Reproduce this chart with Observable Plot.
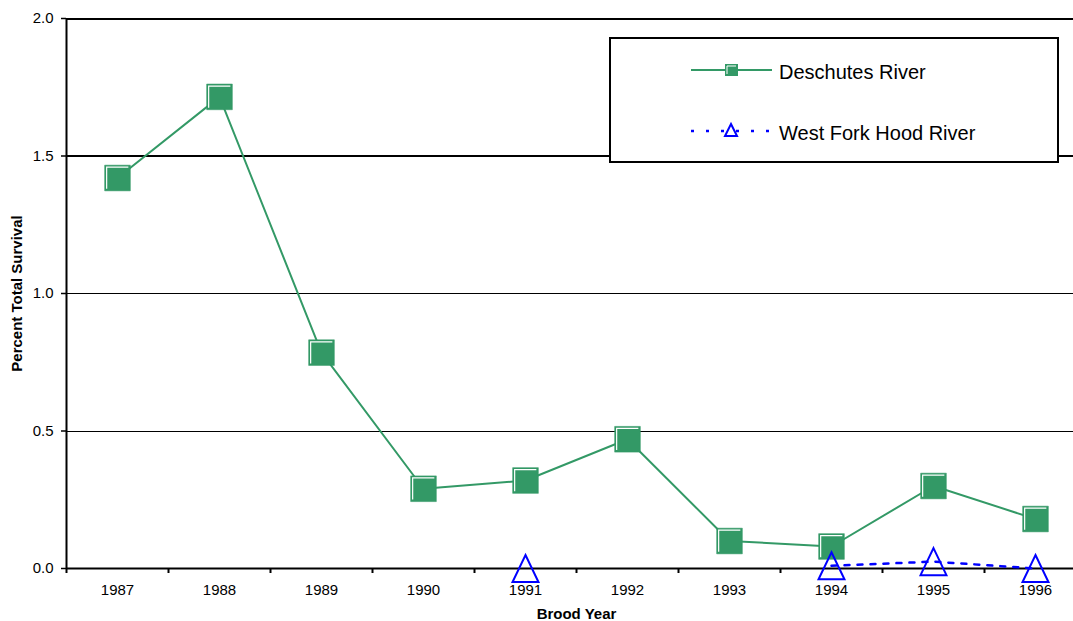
<!DOCTYPE html>
<html>
<head>
<meta charset="utf-8">
<script src="https://cdn.jsdelivr.net/npm/d3@7"></script>
<script src="https://cdn.jsdelivr.net/npm/@observablehq/plot@0.6"></script>
<style>
  html, body { margin: 0; padding: 0; background: #fff; overflow: hidden; }
  #wrap { position: relative; width: 1073px; height: 621px; overflow: hidden; }
  #wrap > svg { max-width: none !important; }
  svg { font-family: "Liberation Sans", Arial, sans-serif; }
</style>
</head>
<body>
<div id="wrap"></div>
<script>
const years = [1987, 1988, 1989, 1990, 1991, 1992, 1993, 1994, 1995, 1996];
const deschutes = [1.42, 1.715, 0.785, 0.29, 0.32, 0.47, 0.10, 0.08, 0.30, 0.18];
const westFork = [null, null, null, null, 0.0, null, null, 0.01, 0.025, 0.0];
const yTicks = [0, 0.5, 1.0, 1.5, 2.0];
const gridValues = [0.5, 1.0, 1.5, 2.0];
const seriesNames = ["Deschutes River", "West Fork Hood River"];

const green = "#339966";
const blue = "#0000FF";

const dataD = years.map((y, i) => ({year: y, v: deschutes[i]}));
const dataW = years.map((y, i) => ({year: y, v: westFork[i]}));
const bandEdges = d3.range(years[0] - 0.5, years[years.length - 1] + 1, 1);

// custom marker shapes
const highlightL = {
  draw(ctx, size) {
    const s = Math.sqrt(size) / 2;
    ctx.moveTo(-s + 2, s - 2);
    ctx.lineTo(-s + 2, -s + 2);
    ctx.lineTo(s - 2, -s + 2);
  }
};
const tallTriangle = {
  draw(ctx, size) {
    const r = Math.sqrt(size / Math.PI);
    ctx.moveTo(0, -r);
    ctx.lineTo(r * 0.96, r);
    ctx.lineTo(-r * 0.96, r);
    ctx.closePath();
  }
};

const chart = Plot.plot({
  width: 1100,
  height: 621,
  marginLeft: 66,
  marginRight: 14,
  marginTop: 18,
  marginBottom: 53,
  style: {fontFamily: "Liberation Sans, Arial, sans-serif", fontSize: "15px", color: "#000", background: "#fff", maxWidth: "none"},
  x: {type: "linear", domain: [years[0] - 0.5, years[years.length - 1] + 0.5]},
  y: {domain: [0, 2]},
  marks: [
    Plot.ruleY(gridValues, {stroke: "#000", strokeOpacity: 1, strokeWidth: d => (d >= 1.5 ? 2 : 1), shapeRendering: "crispEdges"}),
    Plot.axisY({ticks: yTicks, tickFormat: d3.format(".1f"), tickSize: 5, tickPadding: 8, label: null, fontSize: 15, strokeWidth: 1.5}),
    Plot.axisY({ticks: [], label: "Percent Total Survival", labelAnchor: "center", labelArrow: "none", labelOffset: 55, fontWeight: "bold", fontSize: 15}),
    Plot.axisX({ticks: years, tickFormat: d => String(d), tickSize: 0, tickPadding: 16, label: null, fontSize: 15}),
    Plot.axisX({ticks: bandEdges, tickFormat: () => "", tickSize: 5, strokeWidth: 2, label: null}),
    Plot.axisX({ticks: [], label: "Brood Year", labelAnchor: "center", labelArrow: "none", labelOffset: 50, fontWeight: "bold", fontSize: 15}),
    Plot.ruleX([years[0] - 0.5], {stroke: "#000", strokeWidth: 2}),
    Plot.ruleY([0], {stroke: "#000", strokeWidth: 2}),
    Plot.line(dataD, {x: "year", y: "v", stroke: green, strokeWidth: 2}),
    Plot.dot(dataD, {x: "year", y: "v", symbol: "square", r: 14.5, fill: green, stroke: green, strokeWidth: 0.5}),
    Plot.dot(dataD, {x: "year", y: "v", symbol: highlightL, r: 14.5, fill: "none", stroke: "#fff", strokeWidth: 1.2}),
    Plot.line(dataW, {x: "year", y: "v", stroke: blue, strokeWidth: 2.5, strokeDasharray: "5,8"}),
    Plot.dot(dataW.filter(d => d.v != null), {x: "year", y: "v", symbol: tallTriangle, r: 13.5, fill: "none", stroke: blue, strokeWidth: 2})
  ]
});

const wrap = document.getElementById("wrap");
wrap.appendChild(chart);

// Legend box
const leg = d3.select(wrap).append("svg")
  .attr("id", "legend")
  .attr("width", 1073).attr("height", 200)
  .style("position", "absolute").style("left", "0px").style("top", "0px")
  .style("font-family", "Liberation Sans, Arial, sans-serif");
leg.append("rect").attr("x", 610).attr("y", 38).attr("width", 448).attr("height", 124)
  .attr("fill", "#fff").attr("stroke", "#000").attr("stroke-width", 2);

// entry 1
const e1 = leg.append("g").attr("transform", "translate(0,70)");
e1.append("line").attr("x1", 691).attr("x2", 772).attr("y1", 0).attr("y2", 0).attr("stroke", green).attr("stroke-width", 2);
e1.append("rect").attr("x", 725).attr("y", -6).attr("width", 13).attr("height", 12).attr("fill", green);
e1.append("path").attr("d", "M727,4V-4H736").attr("fill", "none").attr("stroke", "#fff").attr("stroke-width", 1);
e1.append("text").attr("x", 779).attr("y", 2).attr("dy", "0.36em").attr("font-size", 20).text(seriesNames[0]);

// entry 2
const e2 = leg.append("g").attr("transform", "translate(0,131)");
e2.append("line").attr("x1", 691).attr("x2", 772).attr("y1", 0).attr("y2", 0).attr("stroke", blue).attr("stroke-width", 2.5).attr("stroke-dasharray", "3,12");
e2.append("path").attr("d", "M731,-7L737,5H725Z").attr("fill", "#fff").attr("stroke", blue).attr("stroke-width", 2);
e2.append("text").attr("x", 779).attr("y", 2).attr("dy", "0.36em").attr("font-size", 20).text(seriesNames[1]);
</script>
</body>
</html>
